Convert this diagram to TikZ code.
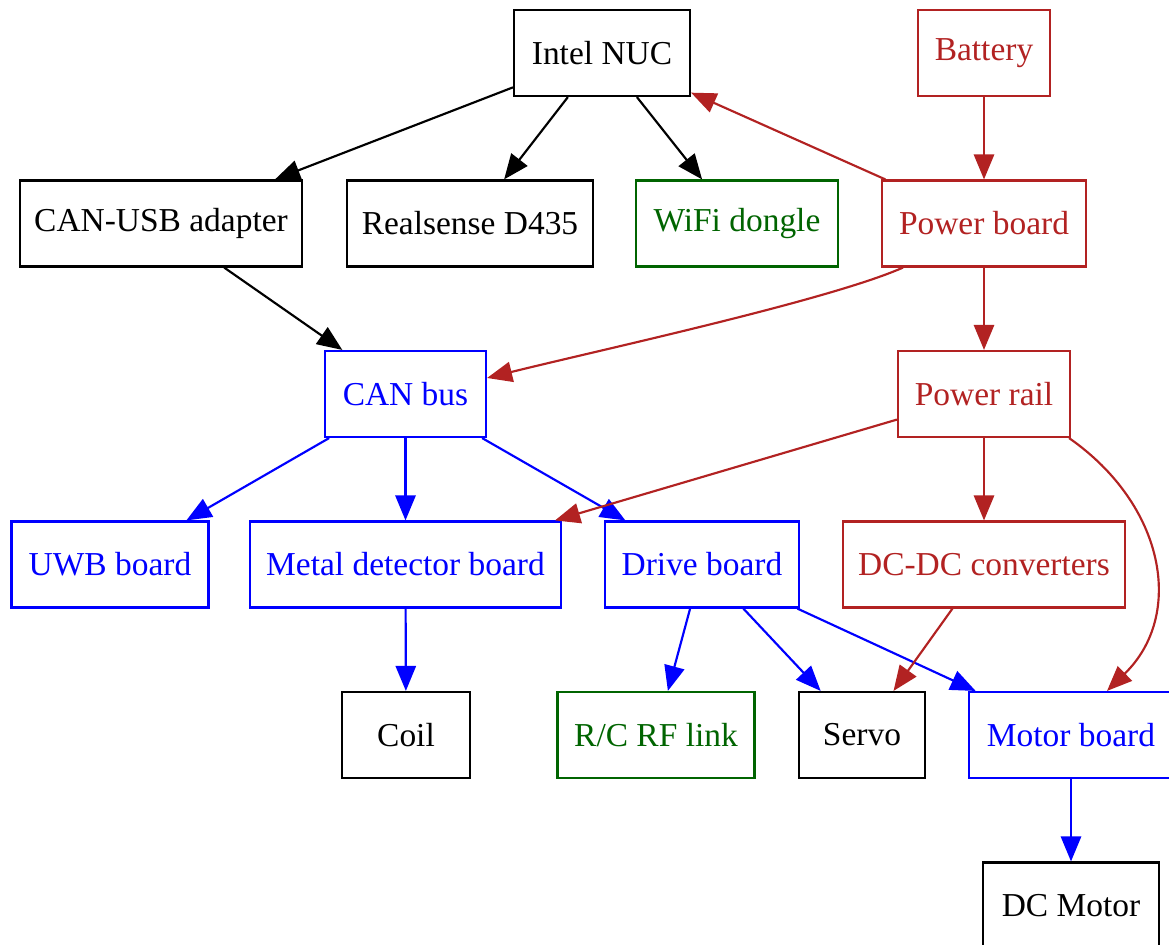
\documentclass[tikz,border=0pt]{standalone}
\usepackage{fontspec}
\setmainfont{Liberation Serif}
\usetikzlibrary{arrows.meta,calc}
\definecolor{firebrick}{RGB}{178,34,34}
\definecolor{dkgreen}{RGB}{0,100,0}
\definecolor{pureblue}{RGB}{0,0,255}

\begin{document}
\begin{tikzpicture}[x=0.4186pt,y=-0.4186pt,
  box/.style={draw,rectangle,line width=0.9pt,inner sep=0pt,
    font=\fontsize{14}{16}\selectfont,minimum height=86*0.4186pt},
  wd/.style={minimum width=#1*0.4186pt},
  hw/.style={box,draw=black,text=black},
  pw/.style={box,draw=firebrick,text=firebrick},
  bus/.style={box,draw=pureblue,text=pureblue},
  rf/.style={box,draw=dkgreen,text=dkgreen},
  edge/.style={line width=0.9pt,-{Triangle[length=10.5pt,width=8.5pt]}},
  blk/.style={edge,color=black},
  red/.style={edge,color=firebrick},
  blu/.style={edge,color=pureblue}]

\useasboundingbox (0,0) rectangle (1169,945);

% row 1
\node[hw,wd=176] (nuc) at (602,53) {Intel NUC};
\node[pw,wd=132] (bat) at (984,53) {Battery};
% row 2
\node[hw,wd=282] (canusb) at (161,223.5) {CAN-USB adapter};
\node[hw,wd=246] (rs) at (470,223.5) {Realsense D435};
\node[rf,wd=202] (wifi) at (737,223.5) {WiFi dongle};
\node[pw,wd=204] (pb) at (984,223.5) {Power board};
% row 3
\node[bus,wd=161] (can) at (405.5,394) {CAN bus};
\node[pw,wd=172] (rail) at (984,394) {Power rail};
% row 4
\node[bus,wd=197] (uwb) at (110,564.5) {UWB board};
\node[bus,wd=311] (metal) at (405.5,564.5) {Metal detector board};
\node[bus,wd=194] (drive) at (702,564.5) {Drive board};
\node[pw,wd=282] (dcdc) at (984,564.5) {DC-DC converters};
% row 5
\node[hw,wd=128] (coil) at (406,735) {Coil};
\node[rf,wd=197] (rc) at (656,735) {R/C RF link};
\node[hw,wd=126] (servo) at (862,735) {Servo};
\node[bus,wd=204] (motor) at (1071,735) {Motor board};
% row 6
\node[hw,wd=176] (dcm) at (1071,905.5) {DC Motor};

% data links
\draw[blk] (nuc) -- (canusb);
\draw[blk] (nuc) -- (rs);
\draw[blk] (nuc) -- (wifi);
\draw[blk] (canusb) -- (can);
\draw[blu] (can) -- (uwb);
\draw[blu] (can) -- (metal);
\draw[blu] (can) -- (drive);
\draw[blu] (metal) -- (coil);
\draw[blu] (drive) -- (rc);
\draw[blu] (drive) -- (servo);
\draw[blu] (drive) -- (motor);
\draw[blu] (motor) -- (dcm);

% power distribution
\draw[red] (bat) -- (pb);
\draw[red] (pb) -- (nuc);
\draw[red] (pb) -- (rail);
\draw[red] ($(pb.south)+(-81,0)$) .. controls (830,300) and (600,350) .. ($(can.east)+(0,-16)$);
\draw[red] (rail) -- (metal);
\draw[red] (rail) -- (dcdc);
\draw[red] (dcdc) -- (servo);
\draw[red] ($(rail.south east)+(-2,0)$) .. controls (1165,505) and (1185,615) .. ($(motor.north)+(36,0)$);
\end{tikzpicture}
\end{document}
